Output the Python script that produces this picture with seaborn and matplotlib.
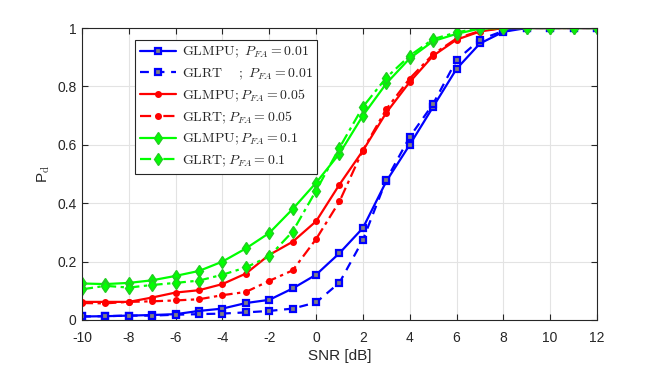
import numpy as np
import pandas as pd
import matplotlib
matplotlib.use("Agg")
import matplotlib.pyplot as plt
import seaborn as sns

# ------------------------------------------------------------
# dados
# ------------------------------------------------------------
snr = [-10, -9, -8, -7, -6, -5, -4, -3, -2, -1, 0, 1, 2, 3, 4, 5, 6, 7, 8, 9, 10, 11, 12]

glmpu_001 = [0.012, 0.013, 0.015, 0.017, 0.020, 0.031, 0.039, 0.058, 0.069, 0.108, 0.155,
             0.229, 0.315, 0.475, 0.600, 0.730, 0.860, 0.947, 0.987, 1.0, 1.0, 1.0, 1.0]
glrt_001 = [0.012, 0.013, 0.015, 0.015, 0.018, 0.020, 0.022, 0.026, 0.031, 0.039, 0.060,
            0.128, 0.274, 0.480, 0.627, 0.740, 0.890, 0.960, 0.990, 1.0, 1.0, 1.0, 1.0]
glmpu_005 = [0.062, 0.062, 0.062, 0.077, 0.094, 0.102, 0.123, 0.159, 0.223, 0.268, 0.338,
             0.464, 0.580, 0.710, 0.815, 0.905, 0.960, 0.988, 1.0, 1.0, 1.0, 1.0, 1.0]
glrt_005 = [0.058, 0.057, 0.062, 0.064, 0.067, 0.071, 0.085, 0.096, 0.134, 0.170, 0.277,
            0.406, 0.582, 0.722, 0.827, 0.910, 0.964, 0.990, 1.0, 1.0, 1.0, 1.0, 1.0]
glmpu_01 = [0.125, 0.123, 0.127, 0.136, 0.151, 0.168, 0.200, 0.245, 0.298, 0.380, 0.470,
            0.570, 0.700, 0.810, 0.896, 0.955, 0.980, 0.998, 1.0, 1.0, 1.0, 1.0, 1.0]
glrt_01 = [0.105, 0.117, 0.111, 0.120, 0.127, 0.135, 0.155, 0.180, 0.218, 0.303, 0.443,
           0.590, 0.730, 0.830, 0.905, 0.962, 0.985, 1.0, 1.0, 1.0, 1.0, 1.0, 1.0]

labels = [
    r"$\mathrm{GLMPU;}\ P_{FA} = 0.01$",
    r"$\mathrm{GLRT}\quad\ ;\ P_{FA} = 0.01$",
    r"$\mathrm{GLMPU;}P_{FA} = 0.05$",
    r"$\mathrm{GLRT;}P_{FA} = 0.05$",
    r"$\mathrm{GLMPU;}P_{FA} = 0.1$",
    r"$\mathrm{GLRT;}P_{FA} = 0.1$",
]
series = [glmpu_001, glrt_001, glmpu_005, glrt_005, glmpu_01, glrt_01]

# ------------------------------------------------------------
# estilo
# ------------------------------------------------------------
sns.set_style("whitegrid")
plt.rcParams["font.family"] = ["Liberation Sans", "DejaVu Sans"]
plt.rcParams["mathtext.fontset"] = "cm"
plt.rcParams["axes.unicode_minus"] = False

estilos = [
    dict(color="#0000ff", linestyle="-", marker="s", markersize=5, mfc="#808080", mec="#0000ff", mew=1.6),
    dict(color="#0000ff", linestyle=(0, (4, 3)), marker="s", markersize=5, mfc="#808080", mec="#0000ff", mew=1.6),
    dict(color="#ff0000", linestyle="-", marker="o", markersize=4, mfc="#ff0000", mec="#ff0000", mew=1),
    dict(color="#ff0000", linestyle=(0, (5, 2, 1.5, 2)), marker="o", markersize=4, mfc="#ff0000", mec="#ff0000", mew=1),
    dict(color="#00ff00", linestyle="-", marker="d", markersize=6.5, mfc="#00ff00", mec="#22cc22", mew=1),
    dict(color="#00ff00", linestyle=(0, (5, 2, 1.5, 2)), marker="d", markersize=6.5, mfc="#00ff00", mec="#22cc22", mew=1),
]

fig = plt.figure(figsize=(6.54, 3.71), dpi=100)
ax = fig.add_axes([0.1254, 0.1375, 0.7874, 0.787])

for y, lab, st in zip(series, labels, estilos):
    df = pd.DataFrame({"snr": snr, "pd": y})
    sns.lineplot(data=df, x="snr", y="pd", ax=ax, label=lab, linewidth=1.6,
                 color=st["color"], linestyle=st["linestyle"], marker=st["marker"],
                 markersize=st["markersize"], markerfacecolor=st["mfc"],
                 markeredgecolor=st["mec"], markeredgewidth=st["mew"])

ax.set_xlim(-10, 12)
ax.set_ylim(0, 1)
ax.set_xticks(range(-10, 13, 2))
ax.set_yticks([0, 0.2, 0.4, 0.6, 0.8, 1])
ax.set_yticklabels(["0", "0.2", "0.4", "0.6", "0.8", "1"])
ax.set_xlabel("SNR [dB]", fontsize=11, labelpad=3)
ax.set_ylabel(r"P$_\mathrm{d}$", fontsize=11)

ax.grid(True, color="#e3e3e3", linewidth=0.8)
for s in ax.spines.values():
    s.set_visible(True)
    s.set_color("#262626")
    s.set_linewidth(0.8)
ax.tick_params(direction="in", length=4, width=0.8, colors="#262626", labelsize=10,
               top=True, right=True, bottom=True, left=True)
ax.tick_params(axis="x", pad=8)
ax.tick_params(axis="y", pad=4)

leg = ax.legend(loc="upper left", bbox_to_anchor=(0.103, 0.959), borderaxespad=0,
                fontsize=10, frameon=True, fancybox=False, framealpha=1,
                handlelength=2.6, labelspacing=0.42, borderpad=0.35, handletextpad=0.4)
leg.get_frame().set_edgecolor("#262626")
leg.get_frame().set_linewidth(0.8)

fig.savefig("out.png", dpi=100)
